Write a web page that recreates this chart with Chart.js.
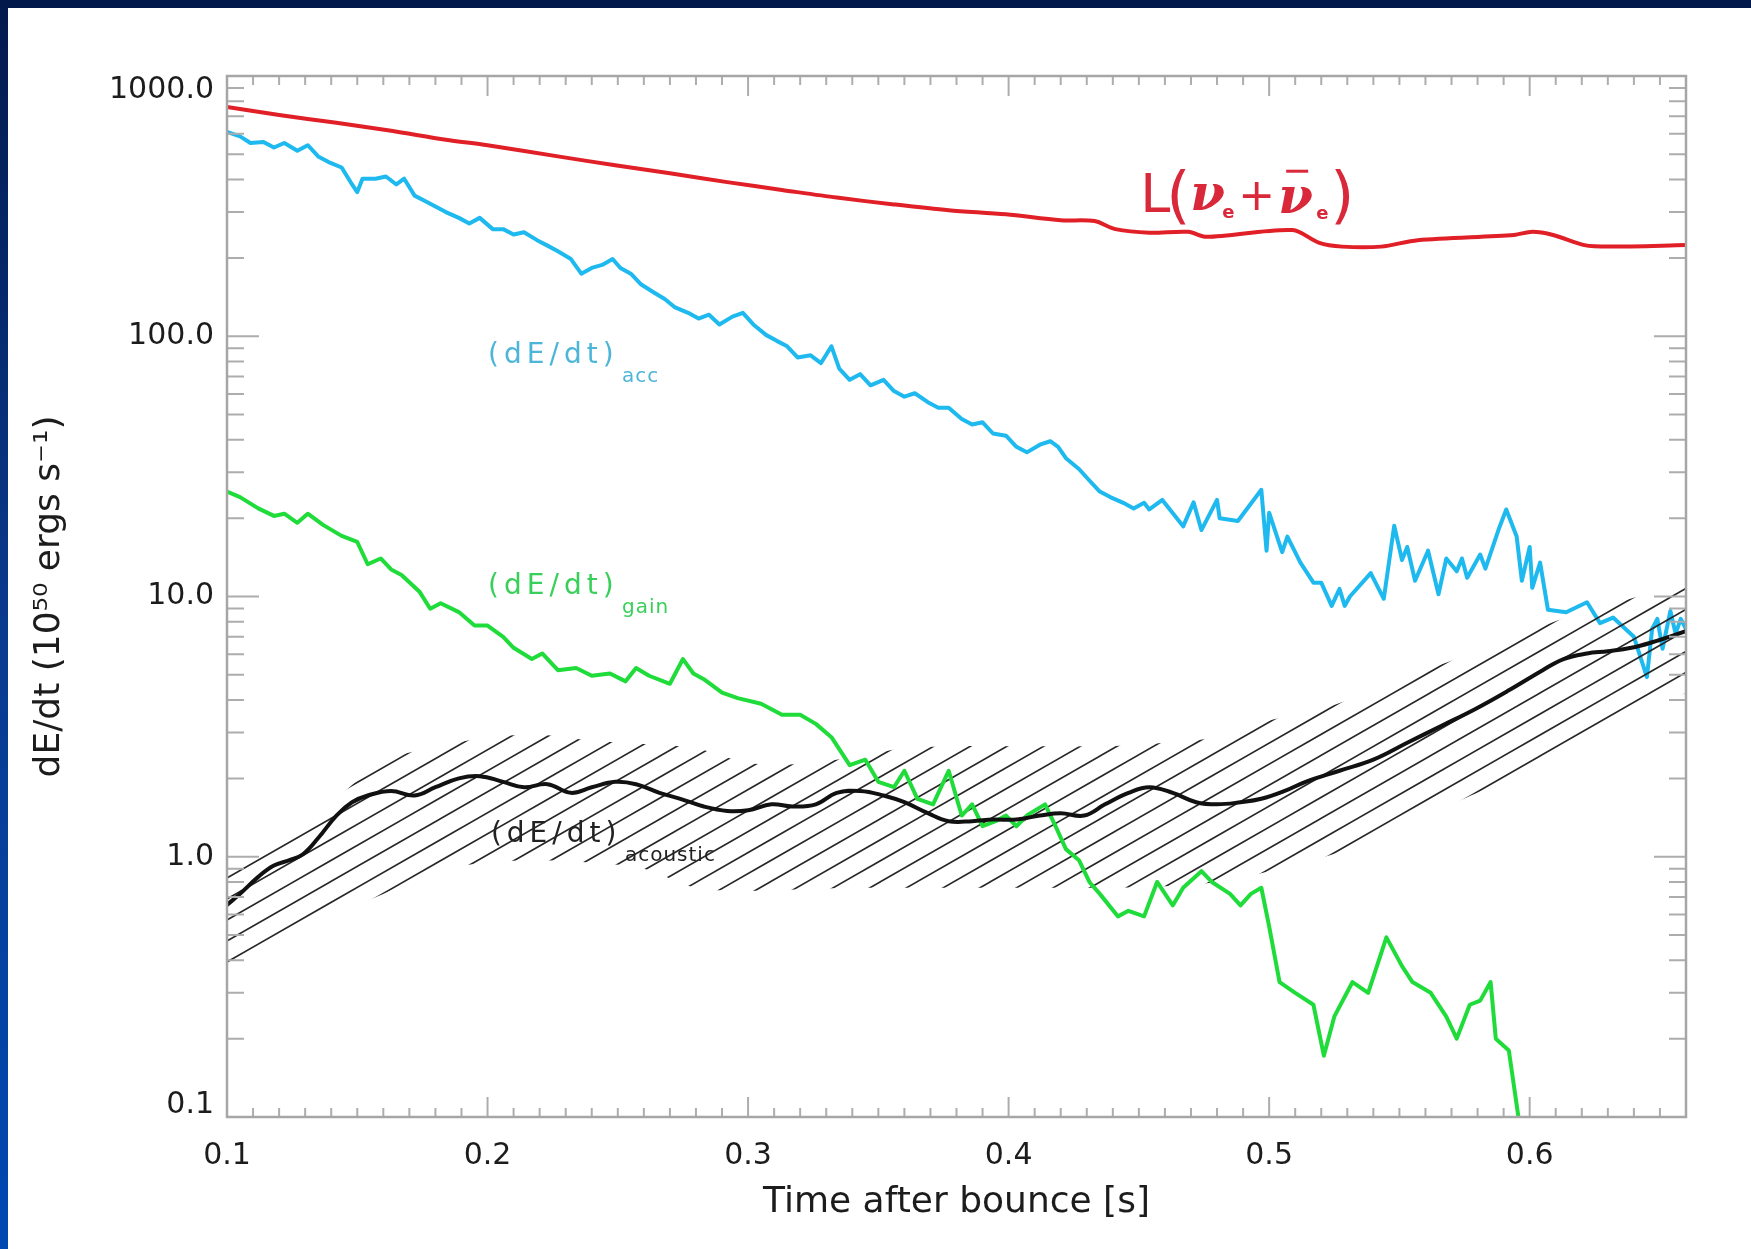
<!DOCTYPE html>
<html>
<head>
<meta charset="utf-8">
<title>dE/dt vs time after bounce</title>
<script src="https://cdn.jsdelivr.net/npm/chart.js@4.4.1/dist/chart.umd.min.js"></script>
<style>
  html, body { margin: 0; padding: 0; background: #fff; }
  #frame { position: relative; width: 1751px; height: 1249px; background: #fff; overflow: hidden; }
  #topBand { position: absolute; left: 0; top: 0; width: 1751px; height: 8px; background: #01194b; }
  #leftBand { position: absolute; left: 0; top: 0; width: 8px; height: 1249px;
              background: linear-gradient(to bottom, #02194c, #0a3a8e 50%, #0048b2); }
  canvas { position: absolute; left: 0; top: 0; }
</style>
</head>
<body>
<div id="frame">
  <div id="topBand"></div>
  <div id="leftBand"></div>
  <canvas id="chart" width="1751" height="1249"></canvas>
</div>
<script>
// ---- data (time in s, dE/dt in 1e50 erg/s) ----

// L(nu_e + anti-nu_e), red
var lumT = [0.100,0.120,0.142,0.163,0.184,0.200,0.227,0.249,0.270,0.292,
            0.313,0.334,0.356,0.377,0.399,0.420,0.433,0.441,0.454,0.469,
            0.476,0.509,0.519,0.528,0.543,0.557,0.594,0.601,0.609,0.621,
            0.631,0.660];
var lumV = [760,708,661,616,569,542,491,454,423,391,
            365,341,321,305,294,279,277,258,250,252,
            241,256,229,221,221,234,245,252,245,224,
            221,224];

// (dE/dt)_acc, cyan
var accT = [0.100,0.105,0.109,0.114,0.118,0.122,0.127,0.131,0.135,0.139,
            0.144,0.148,0.150,0.152,0.157,0.161,0.165,0.168,0.172,0.176,
            0.180,0.184,0.189,0.193,0.197,0.202,0.206,0.210,0.214,0.219,
            0.223,0.227,0.232,0.236,0.240,0.244,0.248,0.251,0.255,0.259,
            0.264,0.268,0.272,0.277,0.281,0.285,0.289,0.294,0.298,0.302,
            0.307,0.311,0.315,0.319,0.324,0.328,0.332,0.335,0.339,0.343,
            0.347,0.352,0.356,0.360,0.364,0.369,0.373,0.377,0.382,0.386,
            0.390,0.394,0.399,0.403,0.407,0.412,0.416,0.419,0.422,0.427,
            0.431,0.435,0.439,0.444,0.448,0.452,0.454,0.459,0.467,0.471,
            0.474,0.480,0.481,0.488,0.497,0.499,0.500,0.505,0.507,0.512,
            0.517,0.520,0.524,0.527,0.529,0.531,0.539,0.544,0.548,0.551,
            0.553,0.556,0.561,0.565,0.568,0.572,0.574,0.576,0.581,0.583,
            0.588,0.591,0.595,0.597,0.600,0.601,0.604,0.607,0.614,0.622,
            0.627,0.632,0.640,0.645,0.647,0.649,0.651,0.654,0.656,0.658,
            0.660];
var accV = [610,586,553,558,531,553,516,542,491,467,
            445,383,358,403,403,411,383,403,347,331,
            315,300,285,271,285,258,258,246,251,234,
            223,212,198,174,183,188,198,183,174,158,
            147,139,129,123,117,121,111,119,123,111,
            101,96,91.5,82.9,84.5,78.9,91.5,75.1,68.0,71.5,
            64.8,68.0,61.6,58.6,60.4,55.8,53.1,53.1,48.1,45.8,
            46.7,42.3,41.5,37.6,35.8,38.3,39.5,37.6,34.0,30.9,
            27.9,25.3,24.1,22.9,21.8,22.9,21.6,23.5,18.6,23.0,
            18.0,23.5,20.0,19.5,25.7,15.0,21.0,14.8,17.0,13.5,
            11.3,11.3,9.2,10.7,9.2,10.0,12.3,9.8,18.7,13.8,
            15.5,11.5,15.0,10.2,14.0,12.5,14.0,11.8,14.5,12.8,
            18.0,21.6,17.0,11.5,15.5,10.8,13.5,8.9,8.7,9.5,
            7.9,8.3,7.0,4.9,7.5,8.2,6.3,8.8,7.2,8.2,
            7.5];

// (dE/dt)_gain, green
var gainT = [0.100,0.105,0.112,0.118,0.122,0.127,0.131,0.137,0.144,0.150,
             0.154,0.159,0.163,0.167,0.174,0.178,0.182,0.189,0.195,0.200,
             0.206,0.210,0.217,0.221,0.227,0.234,0.240,0.247,0.253,0.257,
             0.262,0.270,0.275,0.279,0.283,0.290,0.296,0.305,0.313,0.320,
             0.326,0.332,0.339,0.345,0.350,0.356,0.360,0.365,0.371,0.377,
             0.382,0.386,0.390,0.395,0.399,0.403,0.407,0.414,0.418,0.422,
             0.427,0.431,0.435,0.442,0.446,0.452,0.457,0.463,0.467,0.474,
             0.478,0.485,0.489,0.493,0.497,0.500,0.504,0.510,0.517,0.521,
             0.525,0.532,0.538,0.545,0.551,0.555,0.562,0.568,0.572,0.577,
             0.581,0.585,0.587,0.592,0.596];
var gainV = [25.3,24.1,21.8,20.4,20.8,19.2,20.8,18.8,17.1,16.2,
             13.3,14.0,12.7,12.1,10.4,8.97,9.42,8.71,7.73,7.73,
             7.0,6.35,5.75,6.04,5.21,5.31,4.96,5.06,4.72,5.31,
             4.96,4.62,5.75,5.06,4.81,4.27,4.07,3.87,3.51,3.51,
             3.24,2.88,2.25,2.36,1.94,1.85,2.14,1.67,1.59,2.14,
             1.44,1.59,1.31,1.37,1.44,1.31,1.44,1.59,1.31,1.07,
             0.97,0.80,0.72,0.59,0.62,0.59,0.80,0.65,0.76,0.88,
             0.80,0.72,0.65,0.72,0.76,0.54,0.33,0.30,0.27,0.172,
             0.243,0.33,0.30,0.49,0.38,0.33,0.30,0.243,0.20,0.27,
             0.28,0.33,0.20,0.18,0.095];

// (dE/dt)_acoustic, black
var acouT = [0.100,0.105,0.112,0.118,0.124,0.129,0.135,0.142,0.148,0.154,
             0.163,0.172,0.180,0.189,0.197,0.206,0.214,0.223,0.232,0.240,
             0.249,0.257,0.266,0.274,0.283,0.292,0.300,0.309,0.317,0.326,
             0.334,0.343,0.352,0.360,0.369,0.377,0.386,0.394,0.403,0.412,
             0.420,0.429,0.437,0.446,0.454,0.463,0.472,0.480,0.489,0.497,
             0.506,0.514,0.527,0.540,0.553,0.566,0.579,0.592,0.605,0.613,
             0.622,0.630,0.639,0.647,0.660];
var acouV = [0.653,0.72,0.837,0.925,0.97,1.02,1.18,1.44,1.62,1.72,
             1.79,1.72,1.85,2.0,2.04,1.94,1.85,1.90,1.76,1.85,
             1.94,1.90,1.76,1.67,1.56,1.50,1.51,1.59,1.56,1.59,
             1.76,1.79,1.72,1.62,1.47,1.37,1.37,1.39,1.39,1.44,
             1.47,1.44,1.59,1.76,1.85,1.76,1.62,1.59,1.62,1.67,
             1.79,1.94,2.14,2.36,2.74,3.18,3.69,4.36,5.21,5.75,
             6.04,6.16,6.35,6.67,7.36];

// hatched uncertainty band around the acoustic curve
var bandT  = [0.10,0.12,0.14,0.16,0.18,0.20,0.22,0.24,0.26,0.28,
              0.30,0.32,0.34,0.36,0.38,0.40,0.42,0.44,0.46,0.48,
              0.50,0.52,0.54,0.56,0.58,0.60,0.62,0.64,0.66];
var bandHi = [0.94,1.24,1.62,2.34,2.63,2.88,2.94,2.79,2.71,2.61,
              2.29,2.27,2.41,2.61,2.66,2.66,2.66,2.66,2.74,2.88,
              3.34,3.69,4.36,5.21,6.16,7.36,8.71,9.9,11.3];
var bandLo = [0.38,0.47,0.59,0.72,0.88,0.95,0.97,0.95,0.90,0.76,
              0.74,0.75,0.76,0.76,0.76,0.76,0.76,0.76,0.77,0.80,
              0.88,0.99,1.16,1.44,1.76,2.14,2.74,3.51,4.27];

// axes
var xMin = 0.1, xMax = 0.66;
var yMin = 0.1, yMax = 1000;
var xTickValues = [0.1, 0.2, 0.3, 0.4, 0.5, 0.6];
var xTickLabels = ['0.1', '0.2', '0.3', '0.4', '0.5', '0.6'];
var yTickValues = [0.1, 1, 10, 100, 1000];
var yTickLabels = ['0.1', '1.0', '10.0', '100.0', '1000.0'];

function toPoints(ts, vs) {
  return ts.map(function(t, i) { return { x: t, y: vs[i] }; });
}

var canvas = document.getElementById('chart');
var ctx = canvas.getContext('2d');

// diagonal line pattern for the band
function makeHatch() {
  var c = document.createElement('canvas');
  c.width = 110; c.height = 63;
  var g = c.getContext('2d');
  var slope = 63 / 110;
  g.strokeStyle = '#262626';
  g.lineWidth = 1.6;
  for (var k = 0; k <= 6; k++) {
    g.beginPath();
    g.moveTo(-20, k * 21 + 20 * slope);
    g.lineTo(130, k * 21 - 63 - 20 * slope);
    g.stroke();
  }
  return ctx.createPattern(c, 'repeat');
}

// "(dE/dt)" + subscript
function drawRate(c, x, y, sub, color) {
  c.fillStyle = color;
  c.textAlign = 'left';
  c.textBaseline = 'alphabetic';
  c.font = '28px "DejaVu Sans"';
  c.letterSpacing = '5px';
  c.fillText('(dE/dt)', x, y);
  c.font = '20px "DejaVu Sans"';
  c.letterSpacing = '1px';
  c.fillText(sub, x + 134, y + 19);
  c.letterSpacing = '0px';
}

// L(nu_e + nubar_e)
function drawLum(c, x, y) {
  c.fillStyle = '#d8283a';
  c.textAlign = 'left';
  c.textBaseline = 'alphabetic';
  c.font = '54px "DejaVu Sans"';
  c.fillText('L', x, y);
  c.font = '62px "DejaVu Sans"';
  c.fillText('(', x + 26, y + 4);
  c.font = 'italic bold 50px "DejaVu Serif"';
  c.fillText('\u03bd', x + 50, y - 2);
  c.font = 'bold 18px "DejaVu Sans"';
  c.fillText('e', x + 82, y + 6);
  c.font = '44px "DejaVu Sans"';
  c.fillText('+', x + 98, y - 2);
  c.font = 'italic bold 50px "DejaVu Serif"';
  c.fillText('\u03bd', x + 138, y + 1);
  c.fillRect(x + 146, y - 42, 22, 3);
  c.font = 'bold 18px "DejaVu Sans"';
  c.fillText('e', x + 176, y + 7);
  c.font = '62px "DejaVu Sans"';
  c.fillText(')', x + 190, y + 4);
}

// IDL-like box with inward ticks, labels and in-plot annotations
var boxPlugin = {
  id: 'box',
  afterDraw: function(chart) {
    var c = chart.ctx, a = chart.chartArea;
    var xs = chart.scales.x, ys = chart.scales.y;
    c.save();

    c.strokeStyle = '#adadad';
    c.lineWidth = 2;
    c.beginPath();
    for (var i = 10; i <= 66; i++) {
      var px = xs.getPixelForValue(i / 100);
      var len = (i % 10 === 0) ? 20 : 9;
      c.moveTo(px, a.bottom); c.lineTo(px, a.bottom - len);
      c.moveTo(px, a.top); c.lineTo(px, a.top + len);
    }
    for (var e = -1; e <= 2; e++) {
      for (var k = 1; k <= 9; k++) {
        var py = ys.getPixelForValue(k * Math.pow(10, e));
        var ylen = (k === 1) ? 32 : 17;
        c.moveTo(a.left, py); c.lineTo(a.left + ylen, py);
        c.moveTo(a.right, py); c.lineTo(a.right - ylen, py);
      }
    }
    c.stroke();

    c.strokeStyle = '#a6a6a6';
    c.lineWidth = 2.5;
    c.strokeRect(a.left, a.top, a.right - a.left, a.bottom - a.top);

    // tick labels
    c.fillStyle = '#1c1c1c';
    c.font = '30px "DejaVu Sans"';
    c.textAlign = 'center';
    c.textBaseline = 'middle';
    xTickValues.forEach(function(v, i) {
      c.fillText(xTickLabels[i], xs.getPixelForValue(v), a.bottom + 39);
    });
    c.textAlign = 'right';
    yTickValues.forEach(function(v, i) {
      var py = ys.getPixelForValue(v);
      if (v === yMax) py += 14;
      if (v === yMin) py -= 12;
      c.fillText(yTickLabels[i], a.left - 13, py);
    });

    // axis titles
    c.font = '36px "DejaVu Sans"';
    c.textAlign = 'center';
    c.fillText('Time after bounce [s]', (a.left + a.right) / 2, a.bottom + 86);
    c.save();
    c.translate(50, (a.top + a.bottom) / 2);
    c.rotate(-Math.PI / 2);
    c.fillText('dE/dt (10\u2075\u2070 ergs s\u207b\u00b9)', 0, 0);
    c.restore();

    // curve labels
    drawLum(c, xs.getPixelForValue(0.4505), ys.getPixelForValue(301));
    drawRate(c, xs.getPixelForValue(0.2002), ys.getPixelForValue(79), 'acc', '#4db5d8');
    drawRate(c, xs.getPixelForValue(0.2002), ys.getPixelForValue(10.2), 'gain', '#38cf5a');
    drawRate(c, xs.getPixelForValue(0.2013), ys.getPixelForValue(1.14), 'acoustic', '#222222');

    c.restore();
  }
};

new Chart(ctx, {
  type: 'line',
  data: {
    datasets: [
      { label: 'acc', data: toPoints(accT, accV), borderColor: '#1eb9ef', borderWidth: 4, order: 5 },
      { label: 'bandHi', data: toPoints(bandT, bandHi), borderColor: 'rgba(0,0,0,0)', borderWidth: 0,
        backgroundColor: makeHatch(), fill: 2, tension: 0.3, order: 4 },
      { label: 'bandLo', data: toPoints(bandT, bandLo), borderColor: 'rgba(0,0,0,0)', borderWidth: 0,
        fill: false, tension: 0.3, order: 4 },
      { label: 'lum', data: toPoints(lumT, lumV), borderColor: '#e01f26', borderWidth: 4, tension: 0.3, order: 3 },
      { label: 'gain', data: toPoints(gainT, gainV), borderColor: '#1fdc3a', borderWidth: 4, order: 2 },
      { label: 'acoustic', data: toPoints(acouT, acouV), borderColor: '#111111', borderWidth: 4, tension: 0.4, order: 1 }
    ]
  },
  options: {
    responsive: false,
    devicePixelRatio: 1,
    animation: false,
    events: [],
    layout: { padding: { left: 0, right: 65, top: 76, bottom: 0 } },
    elements: { point: { radius: 0 }, line: { borderJoinStyle: 'round', borderCapStyle: 'round' } },
    plugins: { legend: { display: false }, tooltip: { enabled: false } },
    scales: {
      x: {
        type: 'linear', min: xMin, max: xMax,
        grid: { display: false }, border: { display: false }, ticks: { display: false },
        afterFit: function(s) { s.height = 132; }
      },
      y: {
        type: 'logarithmic', min: yMin, max: yMax,
        grid: { display: false }, border: { display: false }, ticks: { display: false },
        afterFit: function(s) { s.width = 227; }
      }
    }
  },
  plugins: [boxPlugin]
});
</script>
</body>
</html>
